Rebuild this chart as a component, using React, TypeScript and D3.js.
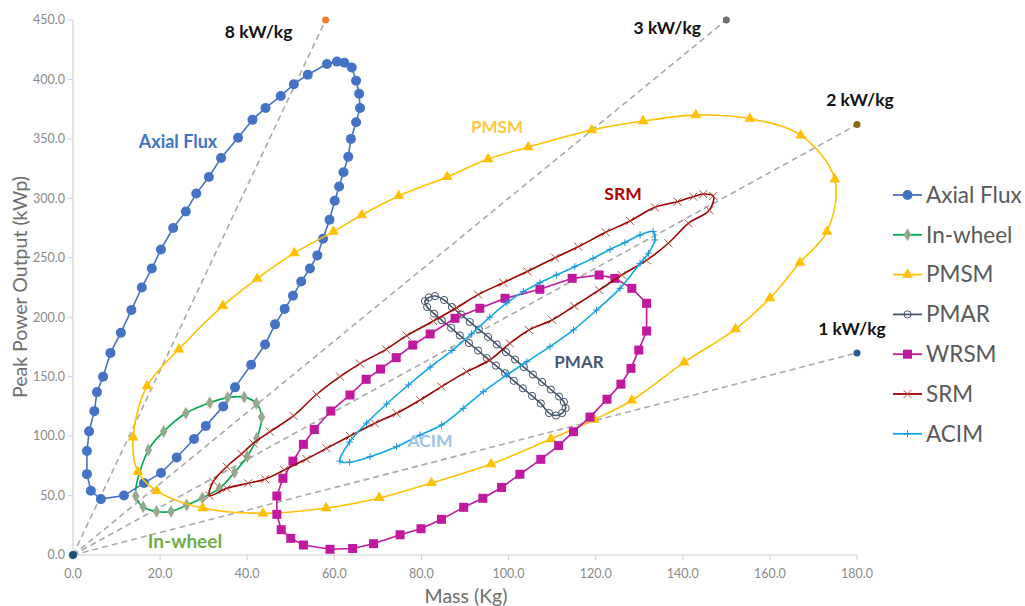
import React from 'react';
import * as d3 from 'd3';

type Pt = [number, number];

// ---- data (Mass kg, Peak power kWp) ----
const axialFlux: Pt[] = [
  [11.7, 50], [6.4, 47], [4.1, 54], [3.2, 68], [3.2, 87.5], [3.7, 104], [4.9, 121], [5.5, 137],
  [6.9, 150], [8.6, 170], [11, 187], [13.4, 206], [15.8, 225], [18.1, 241], [20.2, 257], [23, 275],
  [25.9, 289], [28.3, 304], [31.2, 318], [34, 334], [37.9, 351], [41.2, 366], [44.2, 376], [47.7, 386],
  [50.7, 396], [53.9, 404], [58.3, 413], [60.6, 415], [62.3, 414], [64, 410], [65, 399], [65.7, 388],
  [65.9, 376], [65, 364], [63.8, 350], [63.2, 335], [62.1, 322], [61.1, 310], [60.1, 298], [58.9, 282],
  [57.4, 266], [56.1, 252], [54.4, 241], [52.4, 230], [50.5, 218], [48.6, 207], [46.4, 194], [44.1, 177],
  [40.9, 160], [37.2, 141], [34.5, 125], [30.5, 108.6], [27.8, 97.6], [23.8, 82], [20.2, 69], [16.3, 60.5],
];

const inWheel: Pt[] = [
  [14.4, 49.6], [16.1, 40.5], [19.2, 36.6], [22.5, 36.6], [26.1, 42], [29.7, 48], [33.6, 56],
  [37.1, 69.5], [40, 82.8], [42.2, 98.2], [43.3, 116], [42.1, 127.6], [39.3, 132.8], [35.5, 132.4],
  [31.4, 128.1], [25.9, 119.2], [20.8, 103.8], [17.3, 88.3],
];

const pmsm: Pt[] = [
  [13.8, 99], [17, 142], [24.3, 173], [34.4, 209.5], [42.3, 232.5], [50.8, 254], [59.8, 272], [66.3, 286],
  [74.8, 302], [85.9, 318], [95.3, 333], [104.5, 343], [119.1, 357.5], [130.9, 365], [143, 370],
  [155.4, 367], [167.1, 353], [174.9, 316], [173.1, 272], [166.9, 246], [160, 216], [152.1, 190],
  [140.3, 162], [128.3, 130], [119.7, 114], [109.7, 97.6], [96, 76.5], [82.3, 60.6], [70.3, 48],
  [58.1, 39.5], [43.6, 35], [29.8, 39.5], [19.2, 54], [14.9, 70],
];

const pmar: Pt[] = [
  [80.8, 213.6], [81.7, 216.6], [83.1, 217.8], [85.2, 214.5], [87.0, 208.6], [89.1, 202.3], [91.1, 196.0],
  [93.2, 189.7], [95.3, 183.4], [97.3, 177.1], [99.4, 170.7], [101.5, 164.4], [103.5, 158.1], [105.6, 151.8],
  [107.7, 145.5], [109.7, 139.2], [111.6, 133.3], [112.7, 128.7], [113.1, 123.6], [112.3, 119.4],
  [110.9, 117.3], [109.3, 119.4], [107.4, 127.5], [105.4, 133.8], [103.3, 140.2], [101.2, 146.5],
  [99.2, 152.9], [97.1, 159.3], [95.0, 165.6], [93.0, 172.0], [90.9, 178.3], [88.8, 184.7], [86.8, 191.1],
  [84.7, 197.4], [82.9, 203.0], [81.3, 208.6],
];

const wrsm: Pt[] = [
  [59, 4.8], [64.2, 5.5], [69, 9.5], [75.1, 17], [79.9, 22.1], [84.6, 30], [89.7, 40.1], [94.1, 47.7],
  [98.4, 56.8], [102.6, 67.9], [107.4, 80.5], [111.5, 92], [114.9, 103.7], [118.7, 116], [122.6, 131],
  [125.8, 143.7], [128.1, 157], [129.9, 172.4], [131.7, 188.4], [131.7, 211.7], [128.3, 224.3],
  [124.4, 232.7], [120.8, 235.5], [114.6, 232.7], [107.2, 223.5], [99.2, 215.9], [93.4, 207.5],
  [87.7, 199.1], [82, 185.9], [78, 176.6], [74.2, 166], [70.6, 156.4], [67.3, 147.8], [63.6, 134.6],
  [59.2, 121.1], [55.4, 105.5], [52.9, 93.1], [50.5, 79], [48.2, 64.5], [46.8, 49.6], [46.8, 34.2],
  [47.8, 21.3], [50, 14], [52.9, 8.4],
];

const srm: Pt[] = [
  [31.3, 50], [32.2, 61.7], [35.3, 74.3], [38.7, 85], [41.4, 94], [45.2, 103.7], [50.6, 117], [55.9, 135],
  [61.3, 150], [65.9, 161], [71.9, 173], [76.6, 184.5], [82.7, 196.8], [88.1, 208], [93, 219], [98.8, 229],
  [104.3, 238.5], [110.7, 250], [116, 259.3], [122.3, 271.4], [127.9, 281], [133.6, 292.4], [138.8, 297.2],
  [142.4, 301.4], [144.7, 303.6], [147, 302], [146.1, 290], [141.3, 279], [136.7, 262.2], [131.7, 248],
  [126, 235.5], [120.8, 222.9], [115.1, 209.4], [110, 197.7], [104.7, 189.3], [100.3, 178], [95.7, 164],
  [90.4, 154.2], [84.6, 141.6], [79.7, 130.4], [74.3, 119.2], [69.3, 110.8], [63.6, 100.1], [58.2, 89.7],
  [53.6, 80.7], [48.5, 71.5], [44.1, 63.8], [40.2, 60.3], [35.3, 56.1],
];

const acim: Pt[] = [
  [61.3, 79], [63.5, 95], [67.4, 111], [72, 127], [77, 143], [82, 158], [87, 172], [91.5, 186], [95.7, 200],
  [99.6, 212], [103.4, 221.5], [107.2, 229], [111, 235.5], [115.2, 242.5], [119.4, 249.5], [123.3, 257],
  [126.7, 262.7], [130.2, 269.2], [133.2, 272], [133.6, 265], [132.1, 253.8], [130.2, 245.3],
  [125.6, 224.3], [120.2, 206], [114.9, 189.3], [109.5, 175.2], [104.2, 162.6], [99.6, 151.4],
  [94.2, 137.4], [89.6, 123.4], [84.6, 109.3], [79.7, 100.9], [74.3, 91.1], [68.2, 82.7], [63.5, 78],
];

const seriesNames = ['Axial Flux', 'In-wheel', 'PMSM', 'PMAR', 'WRSM', 'SRM', 'ACIM'];

// power-density guide lines: end point of each line from the origin
const guideLabels = ['8 kW/kg', '3 kW/kg', '2 kW/kg', '1 kW/kg'];
const guideEnds: Pt[] = [[58, 450], [150, 450], [180, 362], [180, 170]];

const xTicks = [0, 20, 40, 60, 80, 100, 120, 140, 160, 180];
const yTicks = [0, 50, 100, 150, 200, 250, 300, 350, 400, 450];

// ---- layout ----
const W = 1025;
const H = 606;
const x = d3.scaleLinear().domain([0, 180]).range([73, 857]);
const y = d3.scaleLinear().domain([0, 450]).range([555, 20]);

const FONT = 'Lato, "Open Sans", sans-serif';

type Marker = 'circle' | 'diamond' | 'triangle' | 'ring' | 'square' | 'times' | 'plus';

const styles: { data: Pt[]; line: string; fill: string; marker: Marker; curve: d3.CurveFactory }[] = [
  { data: axialFlux, line: '#4472C4', fill: '#4472C4', marker: 'circle', curve: d3.curveLinearClosed },
  { data: inWheel, line: '#00A850', fill: '#98A88E', marker: 'diamond', curve: d3.curveCatmullRomClosed },
  { data: pmsm, line: '#FFC000', fill: '#FFC000', marker: 'triangle', curve: d3.curveCatmullRomClosed },
  { data: pmar, line: '#44546A', fill: '#44546A', marker: 'ring', curve: d3.curveCatmullRomClosed },
  { data: wrsm, line: '#C0189F', fill: '#C0189F', marker: 'square', curve: d3.curveLinearClosed },
  { data: srm, line: '#A00000', fill: '#B04A3C', marker: 'times', curve: d3.curveCatmullRomClosed },
  { data: acim, line: '#0FA8E8', fill: '#1E90D8', marker: 'plus', curve: d3.curveCatmullRomClosed },
];

const guideDotColors = ['#ED7D31', '#6F6F6F', '#8B6A14', '#255E91'];
const guideLabelOffsets: Pt[] = [[-67, 12], [-59, 8], [3, -25], [-5, -24]];

const annotations = [
  { text: 'Axial Flux', px: 178, py: 142, color: '#4472C4', size: 18 },
  { text: 'PMSM', px: 497, py: 127, color: '#FFC83D', size: 17 },
  { text: 'SRM', px: 623, py: 194, color: '#B00000', size: 17.5 },
  { text: 'PMAR', px: 579, py: 362, color: '#4A5670', size: 17 },
  { text: 'ACIM', px: 430, py: 441, color: '#9DC3E6', size: 17.5 },
  { text: 'In-wheel', px: 185, py: 541, color: '#70AD47', size: 19 },
];

function MarkerShape({ kind, cx, cy, color }: { kind: Marker; cx: number; cy: number; color: string }) {
  switch (kind) {
    case 'circle':
      return <circle cx={cx} cy={cy} r={5} fill={color} />;
    case 'ring':
      return <circle cx={cx} cy={cy} r={3.6} fill="none" stroke={color} strokeWidth={1} />;
    case 'diamond':
      return <path transform={`translate(${cx},${cy})`} d={d3.symbol(d3.symbolDiamond, 48)() || ''} fill={color} />;
    case 'triangle':
      return <path transform={`translate(${cx},${cy})`} d={d3.symbol(d3.symbolTriangle, 52)() || ''} fill={color} />;
    case 'square':
      return <rect x={cx - 4.5} y={cy - 4.5} width={9} height={9} fill={color} />;
    case 'times':
      return (
        <path d={`M${cx - 4},${cy - 4}L${cx + 4},${cy + 4}M${cx - 4},${cy + 4}L${cx + 4},${cy - 4}`} stroke={color} strokeWidth={1} />
      );
    case 'plus':
      return (
        <path d={`M${cx - 3.5},${cy}L${cx + 3.5},${cy}M${cx},${cy - 3.5}L${cx},${cy + 3.5}`} stroke={color} strokeWidth={1} />
      );
  }
  return null;
}

export default function App() {
  return (
    <div style={{ position: 'absolute', left: 0, top: 0, width: W, height: H, background: '#fff' }}>
      <svg width={W} height={H} style={{ display: 'block' }}>
        <rect width={W} height={H} fill="#fff" />

        {/* axes */}
        <line x1={x(0)} x2={x(0)} y1={y(450)} y2={y(0)} stroke="#D0D0D0" strokeWidth={1.2} />
        <line x1={x(0)} x2={x(180)} y1={y(0)} y2={y(0)} stroke="#D0D0D0" strokeWidth={1.2} />
        {yTicks.map((t) => (
          <g key={`y${t}`}>
            <line x1={x(0) - 5} x2={x(0)} y1={y(t)} y2={y(t)} stroke="#D0D0D0" />
            <text x={x(0) - 8} y={y(t)} dy="0.35em" textAnchor="end" fontFamily={FONT} fontSize={12.5} fill="#8A8A8A">
              {t.toFixed(1)}
            </text>
          </g>
        ))}
        {xTicks.map((t) => (
          <g key={`x${t}`}>
            <line x1={x(t)} x2={x(t)} y1={y(0)} y2={y(0) + 5} stroke="#D0D0D0" />
            <text x={x(t)} y={y(0) + 19} dy="0.35em" textAnchor="middle" fontFamily={FONT} fontSize={12.5} fill="#8A8A8A">
              {t.toFixed(1)}
            </text>
          </g>
        ))}
        <text x={466} y={596} dy="0.35em" textAnchor="middle" fontFamily={FONT} fontSize={19.5} fill="#6E6E6E">
          Mass (Kg)
        </text>
        <text
          transform={`translate(20,287) rotate(-90)`}
          dy="0.35em"
          textAnchor="middle"
          fontFamily={FONT}
          fontSize={19.5}
          fill="#6E6E6E"
        >
          Peak Power Output (kWp)
        </text>

        {/* power-density guide lines */}
        {guideEnds.map((e, i) => (
          <g key={guideLabels[i]}>
            <line
              x1={x(0)}
              y1={y(0)}
              x2={x(e[0])}
              y2={y(e[1])}
              stroke="#A9A9A9"
              strokeWidth={1.6}
              strokeDasharray="6 4"
            />
            <circle cx={x(e[0])} cy={y(e[1])} r={3.5} fill={guideDotColors[i]} />
            <text
              x={x(e[0]) + guideLabelOffsets[i][0]}
              y={y(e[1]) + guideLabelOffsets[i][1]}
              dy="0.35em"
              textAnchor="middle"
              fontFamily={FONT}
              fontWeight={700}
              fontSize={17.5}
              fill="#111"
            >
              {guideLabels[i]}
            </text>
          </g>
        ))}
        <circle cx={x(0)} cy={y(0)} r={4} fill="#1F4E79" />

        {/* motor series */}
        {styles.map((s, i) => {
          const path = d3
            .line<Pt>()
            .x((d) => x(d[0]))
            .y((d) => y(d[1]))
            .curve(s.curve)(s.data);
          return (
            <g key={seriesNames[i]}>
              <path d={path || ''} fill="none" stroke={s.line} strokeWidth={1.6} />
              {s.data.map((d, j) => (
                <MarkerShape key={j} kind={s.marker} cx={x(d[0])} cy={y(d[1])} color={s.fill} />
              ))}
            </g>
          );
        })}

        {/* in-chart labels */}
        {annotations.map((a) => (
          <text
            key={a.text}
            x={a.px}
            y={a.py}
            dy="0.35em"
            textAnchor="middle"
            fontFamily={FONT}
            fontWeight={700}
            fontSize={a.size}
            fill={a.color}
          >
            {a.text}
          </text>
        ))}

        {/* legend */}
        {styles.map((s, i) => {
          const ly = 195 + i * 39.8;
          return (
            <g key={`lg${i}`}>
              <line x1={893} x2={922} y1={ly} y2={ly} stroke={s.line} strokeWidth={1.8} />
              <MarkerShape kind={s.marker} cx={907.5} cy={ly} color={s.fill} />
              <text x={926} y={ly} dy="0.35em" fontFamily={FONT} fontSize={22.5} fill="#595959">
                {seriesNames[i]}
              </text>
            </g>
          );
        })}
      </svg>
    </div>
  );
}
